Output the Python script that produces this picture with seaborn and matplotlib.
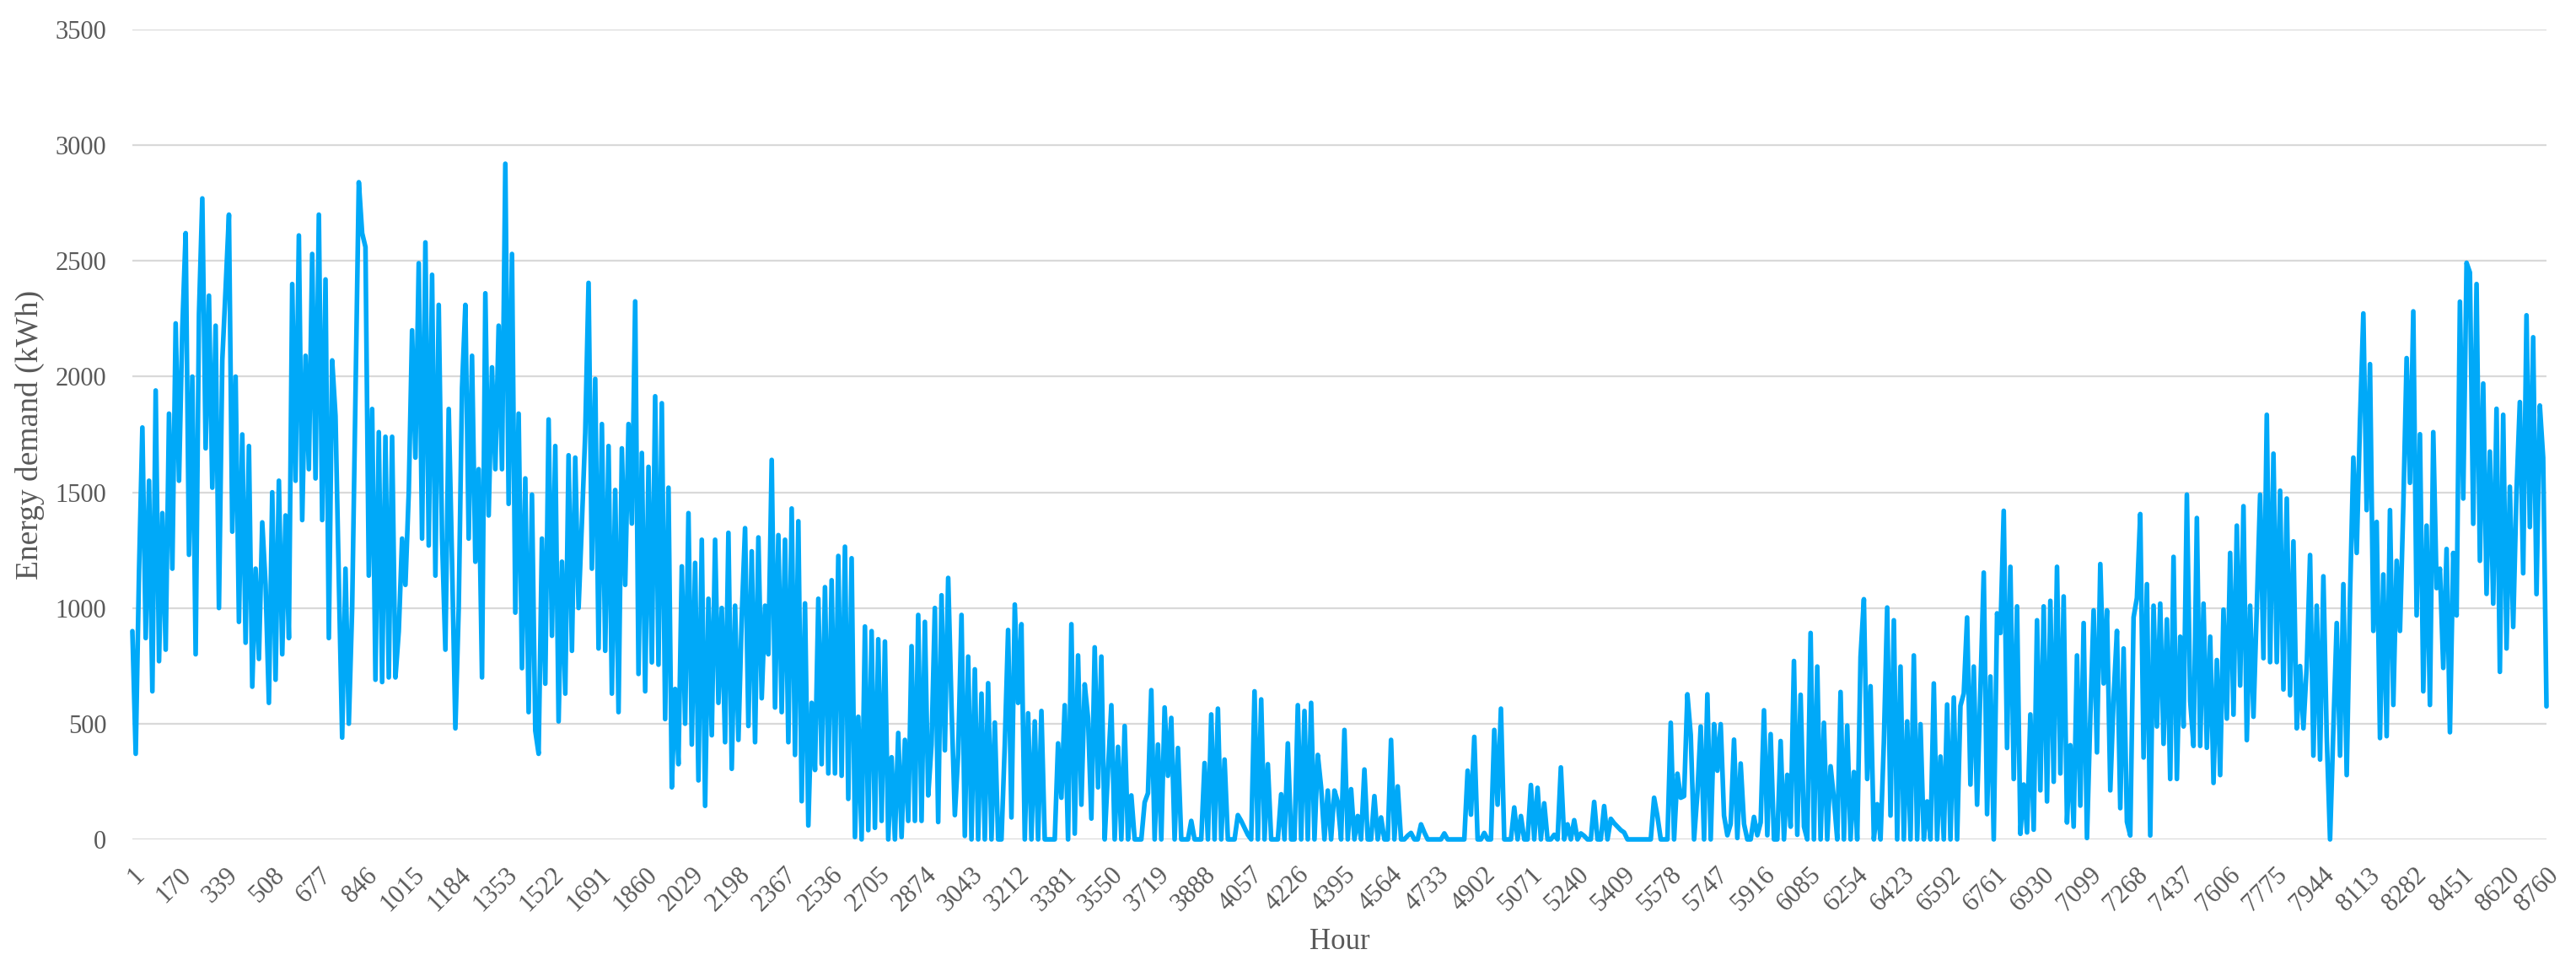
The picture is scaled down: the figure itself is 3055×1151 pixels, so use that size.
import numpy as np
import pandas as pd
import seaborn as sns
import matplotlib
matplotlib.use("Agg")
from matplotlib import pyplot as plt

# hourly energy demand, 14 readings per 169-hour tick step
demand_q1 = [
    900, 370, 1160, 1780, 870, 1550, 640, 1940, 770, 1410, 820, 1840, 1170, 2230,
    1550, 2210, 2620, 1230, 2000, 800, 2270, 2770, 1690, 2350, 1520, 2220, 1000, 2070,
    2380, 2700, 1330, 2000, 940, 1750, 850, 1700, 660, 1170, 780, 1370, 1100, 590,
    1500, 690, 1550, 800, 1400, 870, 2400, 1550, 2610, 1380, 2090, 1600, 2530, 1560,
    2700, 1380, 2420, 870, 2070, 1830, 1120, 440, 1170, 500, 1000, 1910, 2840, 2620,
    2560, 1140, 1860, 690, 1760, 680, 1740, 700, 1740, 700, 900, 1300, 1100, 1500,
    2200, 1650, 2490, 1300, 2580, 1270, 2440, 1140, 2310, 1300, 820, 1860, 1200, 480,
    1000, 1950, 2310, 1300, 2090, 1200, 1600, 700, 2360, 1400, 2040, 1600, 2220, 1600,
    2920, 1450, 2530, 980, 1840, 740, 1560, 550, 1490, 470, 370, 1300, 673, 1815,
    880, 1700, 510, 1200, 630, 1660, 815, 1650, 1000, 1370, 1755, 2405, 1170, 1990,
    825, 1795, 815, 1700, 630, 1510, 550, 1690, 1100, 1795, 1365, 2325, 715, 1670,
    640, 1610, 765, 1915, 755, 1885, 520, 1520, 225, 650, 325, 1180, 500, 1410,
    410, 1195, 255, 1295, 145, 1040, 450, 1295, 590, 1000, 420, 1325, 305, 1010,
]
demand_q2 = [
    430, 960, 1345, 490, 1245, 420, 1305, 610, 1010, 800, 1640, 570, 1315, 550,
    1295, 420, 1430, 365, 1375, 165, 1020, 60, 590, 300, 1040, 325, 1090, 285,
    1120, 285, 1225, 275, 1265, 175, 1215, 10, 530, 0, 920, 40, 900, 50,
    865, 80, 855, 0, 355, 0, 460, 10, 430, 80, 835, 80, 970, 80,
    940, 190, 410, 1000, 75, 1055, 385, 1130, 575, 105, 370, 970, 15, 790,
    0, 735, 0, 630, 0, 675, 0, 505, 0, 0, 410, 905, 95, 1015,
    590, 930, 0, 545, 0, 510, 0, 555, 0, 0, 0, 0, 415, 180,
    580, 0, 930, 25, 795, 150, 670, 525, 90, 830, 225, 790, 0, 300,
    580, 0, 400, 0, 490, 0, 190, 0, 0, 0, 160, 200, 645, 0,
    410, 0, 570, 275, 525, 0, 395, 0, 0, 0, 80, 0, 0, 0,
    330, 0, 540, 0, 565, 0, 345, 0, 0, 0, 105, 80, 50, 20,
    0, 640, 0, 605, 0, 325, 0, 0, 0, 195, 0, 415, 0, 0,
    580, 0, 555, 0, 590, 0, 365, 225, 0, 211, 0, 211, 162, 0,
]
demand_q3 = [
    473, 0, 217, 0, 101, 0, 302, 0, 0, 187, 0, 95, 0, 0,
    430, 0, 229, 0, 0, 16, 28, 0, 0, 65, 30, 0, 0, 0,
    0, 0, 26, 0, 0, 0, 0, 0, 0, 297, 107, 443, 0, 0,
    28, 0, 0, 473, 150, 565, 0, 0, 0, 138, 0, 101, 0, 0,
    235, 0, 223, 0, 156, 0, 0, 20, 0, 311, 0, 65, 0, 83,
    0, 26, 15, 0, 0, 162, 0, 0, 144, 0, 89, 70, 55, 40,
    30, 0, 0, 0, 0, 0, 0, 0, 0, 180, 100, 0, 0, 0,
    504, 0, 284, 180, 187, 627, 452, 0, 199, 488, 0, 627, 0, 498,
    297, 498, 103, 18, 67, 431, 6, 328, 67, 0, 0, 97, 18, 73,
    558, 18, 455, 0, 0, 425, 0, 279, 55, 771, 20, 625, 55, 0,
    892, 0, 747, 0, 504, 0, 316, 176, 0, 637, 0, 492, 0, 291,
    0, 789, 1038, 261, 662, 0, 152, 0, 419, 1002, 103, 947, 0, 747,
    0, 510, 0, 795, 0, 498, 0, 164, 0, 674, 0, 358, 0, 583,
]
demand_q4 = [
    0, 613, 0, 577, 631, 959, 237, 747, 150, 650, 1153, 109, 704, 0,
    977, 892, 1420, 395, 1178, 261, 1007, 24, 237, 30, 540, 42, 947, 212,
    1007, 164, 1031, 249, 1178, 285, 1050, 73, 407, 55, 795, 146, 935, 6,
    528, 990, 376, 1190, 674, 990, 212, 613, 901, 135, 825, 76, 17, 960,
    1044, 1406, 354, 1103, 17, 1010, 488, 1019, 413, 951, 261, 1221, 261, 876,
    488, 1490, 598, 404, 1389, 404, 1019, 396, 876, 244, 775, 278, 993, 522,
    1238, 539, 1356, 665, 1440, 429, 1010, 530, 1002, 1490, 783, 1835, 766, 1667,
    766, 1507, 648, 1473, 623, 1288, 480, 749, 480, 749, 1229, 362, 1010, 345,
    1137, 446, 0, 480, 935, 362, 1103, 278, 1052, 1650, 1238, 1810, 2273, 1423,
    2054, 901, 1372, 438, 1145, 446, 1423, 581, 1204, 901, 1440, 2080, 1541, 2282,
    968, 1751, 640, 1356, 581, 1760, 1086, 1170, 741, 1255, 463, 1238, 968, 2324,
    1473, 2492, 2450, 1364, 2400, 1204, 1970, 1061, 1676, 1019, 1861, 724, 1835, 825,
    1524, 918, 1507, 1890, 1150, 2265, 1350, 2170, 1060, 1875, 1650, 575,
]

tick_hours = list(range(1, 8621, 169)) + [8760]

demand = demand_q1 + demand_q2 + demand_q3 + demand_q4
df = pd.DataFrame({"Hour": np.linspace(1, 8760, len(demand)), "Demand": demand})

sns.set_theme(style="white")
plt.rcParams['font.family'] = ['Liberation Serif', 'DejaVu Serif']

fig = plt.figure(figsize=(30.55, 11.51), dpi=100)
ax = fig.add_axes([157 / 3055, 1 - 995 / 1151, 2863 / 3055, 960 / 1151])

sns.lineplot(data=df, x="Hour", y="Demand", ax=ax, color="#00A9F8",
             linewidth=4.0, estimator=None, clip_on=False)

ax.set_xlim(1, 8760)
ax.set_ylim(0, 3500)
ax.set_yticks(range(0, 3501, 500))
ax.set_xticks(tick_hours)
ax.set_xticklabels([str(h) for h in tick_hours], rotation=45, ha='right',
                   rotation_mode='anchor')

ax.grid(axis='y', color='#D9D9D9', linewidth=1.6)
ax.set_axisbelow(True)
for s in ax.spines.values():
    s.set_visible(False)
ax.tick_params(axis='both', length=0, colors='#595959', labelsize=22)
ax.tick_params(axis='x', pad=20)
ax.tick_params(axis='y', pad=22)

ax.set_xlabel("Hour", fontsize=25, color='#595959')
ax.set_ylabel("Energy demand (kWh)", fontsize=27, color='#595959')
ax.xaxis.set_label_coords(0.5, -0.127)
ax.xaxis.label.set_verticalalignment('center')
ax.yaxis.set_label_coords(-0.0423, 0.5)
ax.yaxis.label.set_verticalalignment('center')

fig.savefig("out.png", dpi=100)
